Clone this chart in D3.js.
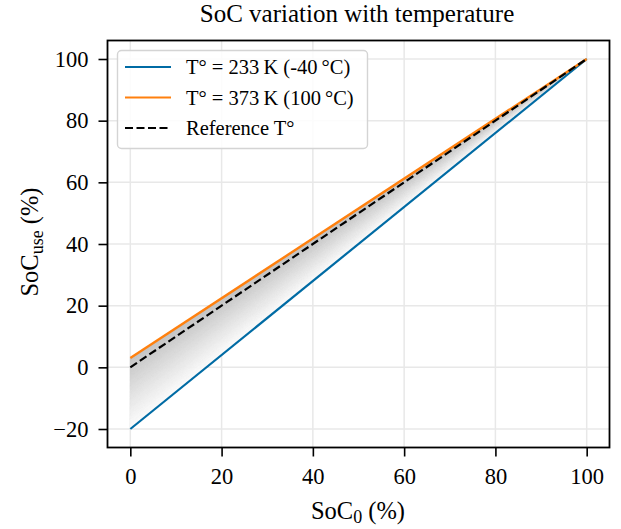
<!DOCTYPE html>
<html><head><meta charset="utf-8">
<script src="https://cdn.jsdelivr.net/npm/d3@7"></script>
<style>
body{margin:0;background:#fff;}
text{font-family:"Liberation Serif","Times New Roman",serif;fill:#000;}
</style></head>
<body><svg id="c" width="621" height="529"></svg>
<script>
// ---- data ----
const soc0 = [0, 100];
const socCold = [-20, 100];   // T = 233 K (-40 °C)
const socHot = [3, 100];      // T = 373 K (100 °C)
const socRef = [0, 100];      // reference temperature
const xTicks = [0, 20, 40, 60, 80, 100];
const yTicks = [-20, 0, 20, 40, 60, 80, 100];
const legendLabels = ["T° = 233\u2009K (-40\u2009°C)", "T° = 373\u2009K (100\u2009°C)", "Reference T°"];

const svg = d3.select("#c");
const L = 107.5, R = 609.5, T = 40.5, B = 447.5;
const x = d3.scaleLinear().domain([-5, 105]).range([L, R]);
const y = d3.scaleLinear().domain([-26, 106]).range([B, T]);

// grid
const g = svg.append("g");
g.selectAll(".gx").data(xTicks).join("line")
  .attr("x1", d => x(d)).attr("x2", d => x(d)).attr("y1", T).attr("y2", B)
  .attr("stroke", "#e8e8e8").attr("stroke-width", 1.5);
g.selectAll(".gy").data(yTicks).join("line")
  .attr("y1", d => y(d)).attr("y2", d => y(d)).attr("x1", L).attr("x2", R)
  .attr("stroke", "#e8e8e8").attr("stroke-width", 1.5);

// shaded fan between the two extreme temperature lines
const N = 80;
const shade = d3.interpolateRgb("#fbfbfb", "#c2c2c2");
const fan = svg.append("g");
for (let i = 0; i < N; i++) {
  const t0 = i / N, t1 = (i + 1) / N;
  const a = socCold[0] + (socHot[0] - socCold[0]) * t0;
  const b = socCold[0] + (socHot[0] - socCold[0]) * t1;
  const c = shade(Math.pow((t0 + t1) / 2, 1.1));
  fan.append("path")
    .attr("d", `M${x(soc0[0])},${y(a)}L${x(soc0[0])},${y(b)}L${x(soc0[1])},${y(socCold[1])}Z`)
    .attr("fill", c).attr("stroke", c).attr("stroke-width", 0.6);
}

const line = d3.line().x((d, i) => x(soc0[i])).y(d => y(d));
svg.append("path").attr("d", line(socCold)).attr("fill", "none")
  .attr("stroke", "#006BA4").attr("stroke-width", 2.2);
svg.append("path").attr("d", line(socHot)).attr("fill", "none")
  .attr("stroke", "#FF800E").attr("stroke-width", 2.4);
svg.append("path").attr("d", line(socRef)).attr("fill", "none")
  .attr("stroke", "#000").attr("stroke-width", 2.2).attr("stroke-dasharray", "8,3.5");

// axes
const xa = svg.append("g").attr("transform", `translate(0,${B})`)
  .call(d3.axisBottom(x).tickValues(xTicks).tickSize(9).tickPadding(12).tickFormat(d3.format("d")));
const ya = svg.append("g").attr("transform", `translate(${L},0)`)
  .call(d3.axisLeft(y).tickValues(yTicks).tickSize(9).tickPadding(10).tickFormat(d => d < 0 ? "\u2212" + Math.abs(d) : d));
[xa, ya].forEach(a => {
  a.select(".domain").remove();
  a.selectAll("line").attr("stroke", "#000").attr("stroke-width", 1.6);
  a.selectAll("text").attr("font-size", 22.5).attr("font-family", "Liberation Serif, serif").attr("fill", "#000");
});
// frame
svg.append("rect").attr("x", L).attr("y", T).attr("width", R - L).attr("height", B - T)
  .attr("fill", "none").attr("stroke", "#000").attr("stroke-width", 1.8);

// title & labels
svg.append("text").attr("x", 357).attr("y", 22).attr("text-anchor", "middle")
  .attr("font-size", 25).text("SoC variation with temperature");
const xl = svg.append("text").attr("x", 358).attr("y", 519).attr("text-anchor", "middle").attr("font-size", 24.5);
xl.append("tspan").text("SoC");
xl.append("tspan").attr("font-size", 18).attr("dy", 4).text("0");
xl.append("tspan").attr("dy", -4).text(" (%)");
const yl = svg.append("text").attr("transform", `translate(38,242) rotate(-90)`)
  .attr("text-anchor", "middle").attr("font-size", 24.5);
yl.append("tspan").text("SoC");
yl.append("tspan").attr("font-size", 18).attr("dy", 5).text("use");
yl.append("tspan").attr("dy", -5).text(" (%)");

// legend
const lg = svg.append("g");
lg.append("rect").attr("x", 117.5).attr("y", 50.5).attr("width", 250).attr("height", 98).attr("rx", 4)
  .attr("fill", "#fff").attr("fill-opacity", 0.85).attr("stroke", "#d4d4d4").attr("stroke-width", 1.4);
const lstyles = [
  {c: "#006BA4", d: null},
  {c: "#FF800E", d: null},
  {c: "#000", d: "8,3.5"}
];
legendLabels.forEach((lab, i) => {
  const yy = 67 + i * 30.5;
  const ln = lg.append("line").attr("x1", 125).attr("x2", 171).attr("y1", yy).attr("y2", yy)
    .attr("stroke", lstyles[i].c).attr("stroke-width", 2.2);
  if (lstyles[i].d) ln.attr("stroke-dasharray", lstyles[i].d);
  lg.append("text").attr("x", 186).attr("y", yy + 7).attr("font-size", 20.5).text(lab);
});
</script></body></html>
